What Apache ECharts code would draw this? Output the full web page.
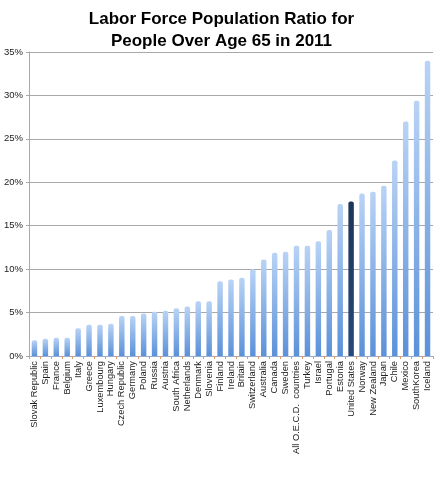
<!DOCTYPE html>
<html>
<head>
<meta charset="utf-8">
<script src="https://cdn.jsdelivr.net/npm/echarts@6/dist/echarts.min.js"></script>
<style>
html,body{margin:0;padding:0;background:#fff;}
#chart{width:443px;height:480px;}
</style>
</head>
<body>
<div id="chart"></div>
<script>
const categories = ["Slovak Republic","Spain","France","Belgium","Italy","Greece","Luxembourg","Hungary","Czech Republic","Germany","Poland","Russia","Austria","South Africa","Netherlands","Denmark","Slovenia","Finland","Ireland","Britain","Switzerland","Australia","Canada","Sweden","All O.E.C.D.  countries","Turkey","Israel","Portugal","Estonia","United States","Norway","New Zealand","Japan","Chile","Mexico","SouthKorea","Iceland"];
const values = [1.8,2.0,2.1,2.1,3.2,3.6,3.6,3.7,4.6,4.6,4.9,5.1,5.2,5.5,5.7,6.3,6.3,8.6,8.8,9.0,10.0,11.1,11.9,12.0,12.7,12.7,13.2,14.5,17.5,17.8,18.7,18.9,19.6,22.5,27.0,29.4,34.0];
const highlight = "United States";
const yTicks = [0,5,10,15,20,25,30,35];

const chart = echarts.init(document.getElementById('chart'));
const normalColor = new echarts.graphic.LinearGradient(0,0,0,1,[{offset:0,color:'#b9d3f5'},{offset:1,color:'#5b91d9'}]);
const hiColor = new echarts.graphic.LinearGradient(0,0,0,1,[{offset:0,color:'#1d3658'},{offset:1,color:'#27497a'}]);
chart.setOption({
  animation:false,
  title:{
    text:'Labor Force Population Ratio for\nPeople Over Age 65 in 2011',
    left:'center', top:3,
    textStyle:{fontFamily:'Liberation Sans, Arial, sans-serif',fontSize:17,fontWeight:'bold',color:'#000',lineHeight:22}
  },
  grid:{left:29,right:10,top:52,bottom:124,containLabel:false},
  xAxis:{
    type:'category',
    data:categories,
    axisLine:{lineStyle:{color:'#9aaccc',width:1}},
    axisTick:{show:true,length:3,lineStyle:{color:'#e39a6a'}},
    axisLabel:{rotate:90,interval:0,fontSize:9.3,color:'#222',fontFamily:'Liberation Sans, Arial, sans-serif',margin:5}
  },
  yAxis:{
    type:'value',min:yTicks[0],max:yTicks[yTicks.length-1],interval:5,
    axisLine:{show:true,lineStyle:{color:'#aaaaaa'}},
    axisTick:{show:true,length:3,lineStyle:{color:'#aaaaaa'}},
    splitLine:{lineStyle:{color:'#a8a8a8',width:1}},
    axisLabel:{formatter:'{value}%',fontSize:9.5,color:'#222',fontFamily:'Liberation Sans, Arial, sans-serif',margin:6}
  },
  series:[{
    type:'bar',
    barWidth:'50%',
    data:values.map((v,i)=>({value:v,itemStyle:{color:categories[i]===highlight?hiColor:normalColor}})),
    itemStyle:{borderRadius:[2,2,0,0]}
  }]
});
</script>
</body>
</html>
